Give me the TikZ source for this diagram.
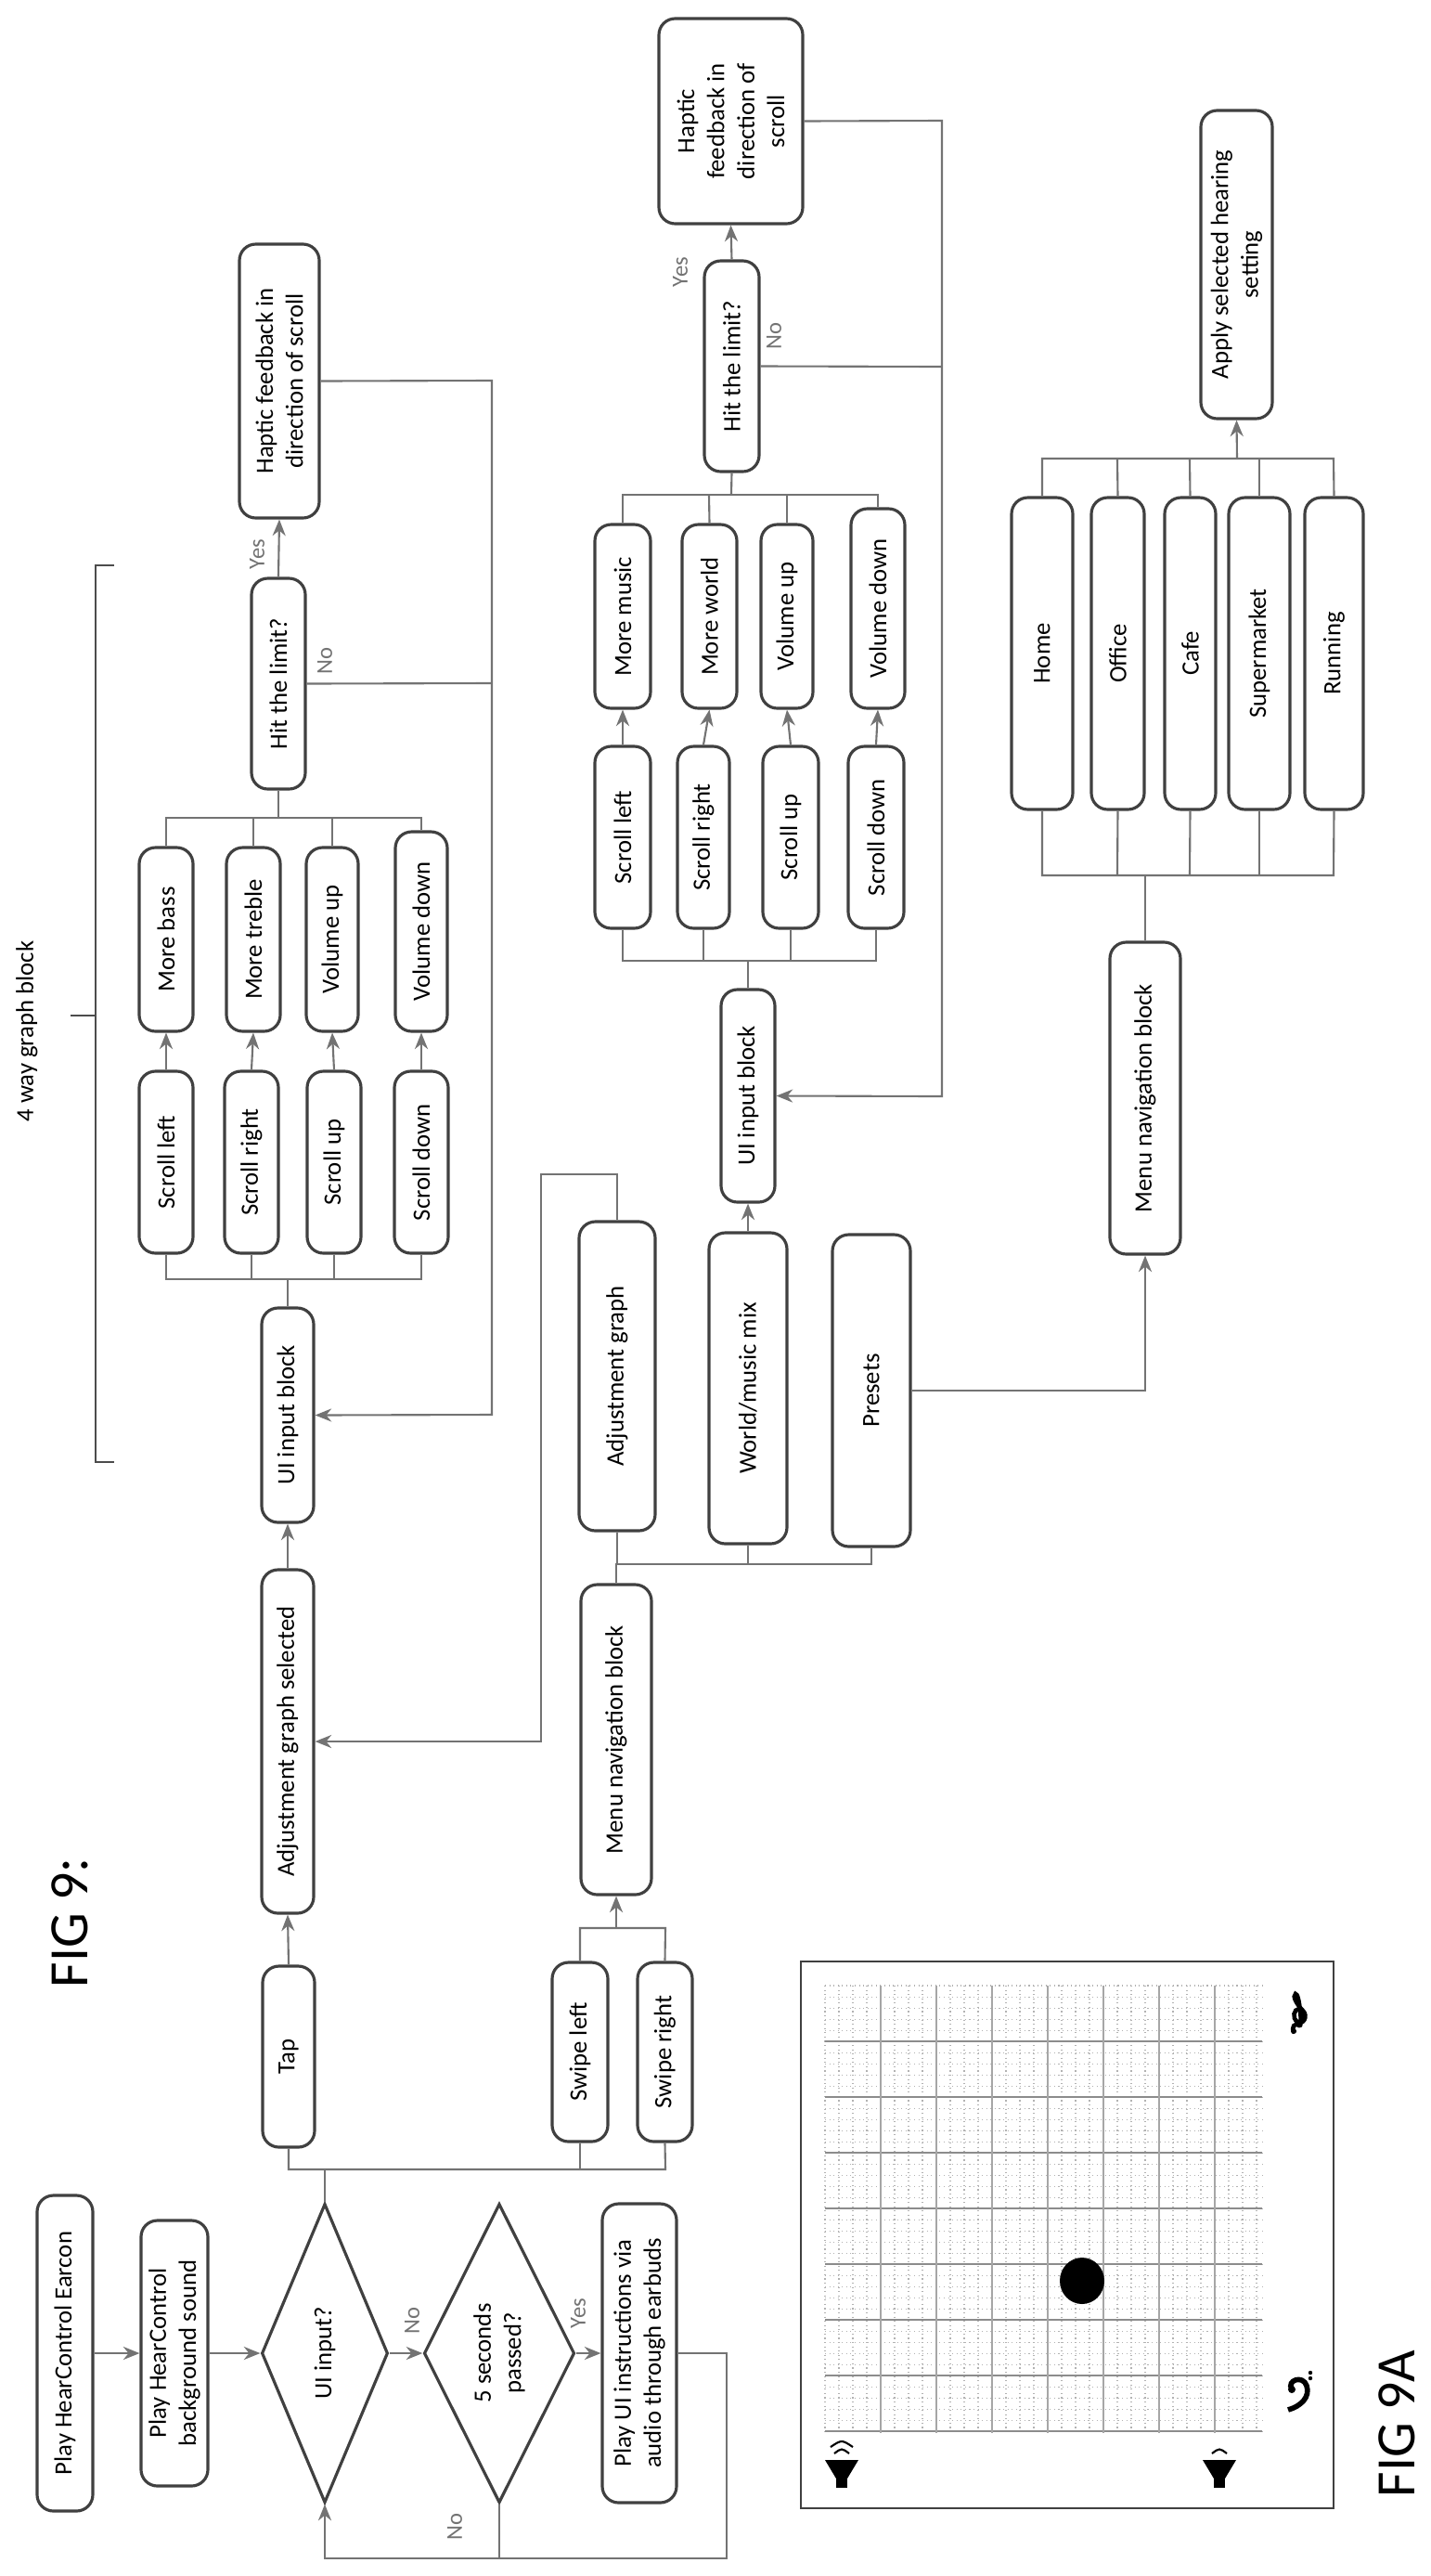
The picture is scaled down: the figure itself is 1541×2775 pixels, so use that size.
\documentclass[tikz,border=0pt]{standalone}
\usepackage{fontspec}
\setmainfont{Carlito}
\usetikzlibrary{shapes.geometric,arrows.meta}
\newcommand\fs{\fontsize{7.6}{9.2}\selectfont}
\newcommand\B[6]{\node[box, minimum width={(#5-#4)*0.01cm}, minimum height={(#3-#2)*0.01cm}] (#1) at ({(#2+#3)/2},{(#4+#5)/2}) {#6};}
\begin{document}
\begin{tikzpicture}[x=0.01cm,y=-0.01cm,
 box/.style={draw=black!75, line width=0.9pt, rounded corners=5pt, rotate=90, inner sep=1pt, align=center, font=\fs},
 dia/.style={draw=black!75, line width=0.9pt, diamond, rotate=90, inner sep=0pt, align=center, font=\fs},
 ln/.style={draw=black!55, line width=0.6pt},
 arr/.style={ln, -{Stealth[length=5pt,width=4pt]}},
 lab/.style={rotate=90, font=\fontsize{7}{8}\selectfont, text=black!55},
 big/.style={rotate=90, font=\fontsize{17}{19}\selectfont}]
\useasboundingbox (0,0) rectangle (1541,2775);
\fill[white] (0,0) rectangle (1541,2775);
% ---- titles
\node[big] (fig9) at (75,2071) {FIG 9:};
\node[big] (fig9a) at (1505,2611) {FIG 9A};
% ---- start chain
\B{earcon}{40}{100}{2365}{2705}{Play HearControl Earcon}
\B{bg}{152}{224}{2392}{2678}{Play HearControl\\background sound}
\node[dia, minimum width=3.22cm, minimum height=1.36cm] (d1) at (350,2535) {UI input?};
\node[dia, minimum width=3.22cm, minimum height=1.39cm] (d2) at (538,2535) {5 seconds\\passed?};
\B{playui}{649}{729}{2374}{2696}{Play UI instructions via\\audio through earbuds}
\draw[arr] (earcon.south) -- (bg.north);
\draw[arr] (bg.south) -- (d1.north);
\draw[arr] (d1.south) -- (d2.north);
\draw[arr] (d2.south) -- (playui.north);
\node[lab] (no1) at (444,2500) {No};
\node[lab] (yes1) at (623,2492) {Yes};
\node[lab] (no2) at (490,2722) {No};
\coordinate (lpA) at (783,2535);
\coordinate (lpB) at (783,2756);
\coordinate (lpC) at (350,2756);
\coordinate (lpD) at (538,2756);
\draw[arr] (playui.south) -- (lpA) -- (lpB) -- (lpC) -- (d1.west);
\draw[ln] (d2.west) -- (lpD);
% ---- tap / swipe
\B{tap}{283}{339}{2118}{2313}{Tap}
\B{swl}{595}{655}{2114}{2307}{Swipe left}
\B{swr}{687}{746}{2114}{2307}{Swipe right}
\coordinate (j0a) at (311,2337);
\coordinate (j0b) at (717,2337);
\draw[ln] (d1.east) -- (350,2337);
\draw[ln] (tap.west) -- (j0a) -- (j0b) -- (swr.west);
\draw[ln] (swl.west) -- (625,2337);
\B{ags}{282}{338}{1691}{2061}{Adjustment graph selected}
\B{ui1}{282}{338}{1409}{1640}{UI input block}
\draw[arr] (tap.east) -- (ags.west);
\draw[arr] (ags.east) -- (ui1.west);
\B{menu1}{626}{702}{1707}{2041}{Menu navigation block}
\coordinate (j1a) at (625,2077);
\coordinate (j1b) at (717,2077);
\draw[ln] (swl.east) -- (j1a) -- (j1b) -- (swr.east);
\draw[arr] (664,2077) -- (menu1.west);
% ---- second column
\B{adj}{624}{706}{1316}{1649}{Adjustment graph}
\B{world}{764}{848}{1328}{1663}{World/music mix}
\B{presets}{897}{981}{1330}{1666}{Presets}
\coordinate (j2a) at (664,1685);
\coordinate (j2b) at (939,1685);
\draw[ln] (menu1.east) -- (j2a) -- (j2b) -- (presets.west);
\draw[ln] (adj.west) -- (665,1685);
\draw[ln] (world.west) -- (806,1685);
\coordinate (fa1) at (665,1265);
\coordinate (fa2) at (583,1265);
\coordinate (fa3) at (583,1876);
\draw[arr] (adj.east) -- (fa1) -- (fa2) -- (fa3) -- (ags.south);
% ---- 4-way block 1
\foreach \n/\a/\b/\t in {sl1/150/208/Scroll left, sr1/242/300/Scroll right, su1/331/389/Scroll up, sd1/425/483/Scroll down}
  {\B{\n}{\a}{\b}{1154}{1350}{\t}}
\B{mb1}{150}{208}{913}{1111}{More bass}
\B{mt1}{244}{302}{913}{1111}{More treble}
\B{vu1}{330}{386}{913}{1111}{Volume up}
\B{vd1}{426}{482}{896}{1111}{Volume down}
\coordinate (j3a) at (179,1378);
\coordinate (j3b) at (454,1378);
\draw[ln] (sl1.west) -- (j3a) -- (j3b) -- (sd1.west);
\draw[ln] (sr1.west) -- (271,1378);
\draw[ln] (su1.west) -- (360,1378);
\draw[ln] (ui1.east) -- (310,1378);
\foreach \s/\m in {sl1/mb1, sr1/mt1, su1/vu1, sd1/vd1} {\draw[arr] (\s.east) -- (\m.west);}
\B{hit1}{271}{329}{623}{850}{Hit the limit?}
\B{hap1}{258}{344}{263}{558}{Haptic feedback in\\direction of scroll}
\coordinate (j4a) at (179,881);
\coordinate (j4b) at (454,881);
\draw[ln] (mb1.east) -- (j4a) -- (j4b) -- (vd1.east);
\draw[ln] (mt1.east) -- (273,881);
\draw[ln] (vu1.east) -- (358,881);
\draw[ln] (hit1.west) -- (300,881);
\draw[arr] (hit1.east) -- (hap1.west);
\node[lab] (yes2) at (277,597) {Yes};
\node[lab] (no3) at (350,712) {No};
\coordinate (fb1a) at (530,736);
\coordinate (fb1b) at (530,410);
\coordinate (fb1c) at (530,1524);
\draw[ln] (hit1.south) -- (fb1a);
\draw[arr] (hap1.south) -- (fb1b) -- (fb1c) -- (ui1.south);
% bracket
\coordinate (brA) at (123,609);
\coordinate (brB) at (103,609);
\coordinate (brC) at (103,1575);
\coordinate (brD) at (123,1575);
\coordinate (brT) at (76,1094);
\draw[black!70, line width=0.8pt] (brA) -- (brB) -- (brC) -- (brD);
\draw[black!70, line width=0.8pt] (brT) -- (103,1094);
\node[rotate=90, font=\fs] (wayl) at (29,1111) {4 way graph block};
% ---- 4-way block 2
\B{ui2}{777}{835}{1066}{1295}{UI input block}
\draw[arr] (world.east) -- (ui2.west);
\foreach \n/\a/\b/\t in {sl2/641/701/Scroll left, sr2/730/786/Scroll right, su2/822/882/Scroll up, sd2/914/974/Scroll down}
  {\B{\n}{\a}{\b}{804}{1000}{\t}}
\B{mm2}{641}{701}{565}{763}{More music}
\B{mw2}{735}{794}{565}{763}{More world}
\B{vu2}{820}{876}{565}{763}{Volume up}
\B{vd2}{917}{975}{548}{763}{Volume down}
\coordinate (j5a) at (671,1035);
\coordinate (j5b) at (944,1035);
\draw[ln] (sl2.west) -- (j5a) -- (j5b) -- (sd2.west);
\draw[ln] (sr2.west) -- (758,1035);
\draw[ln] (su2.west) -- (852,1035);
\draw[ln] (ui2.east) -- (806,1035);
\foreach \s/\m in {sl2/mm2, sr2/mw2, su2/vu2, sd2/vd2} {\draw[arr] (\s.east) -- (\m.west);}
\B{hit2}{759}{818}{281}{508}{Hit the limit?}
\B{hap2}{710}{865}{20}{241}{Haptic\\feedback in\\direction of\\scroll}
\coordinate (j6a) at (671,533);
\coordinate (j6b) at (946,533);
\draw[ln] (mm2.east) -- (j6a) -- (j6b) -- (vd2.east);
\draw[ln] (mw2.east) -- (764,533);
\draw[ln] (vu2.east) -- (848,533);
\draw[ln] (hit2.west) -- (788,533);
\draw[arr] (hit2.east) -- (hap2.west);
\node[lab] (yes3) at (733,293) {Yes};
\node[lab] (no4) at (834,362) {No};
\coordinate (fb2a) at (1015,395);
\coordinate (fb2b) at (1015,130);
\coordinate (fb2c) at (1015,1181);
\draw[ln] (hit2.south) -- (fb2a);
\draw[arr] (hap2.south) -- (fb2b) -- (fb2c) -- (ui2.south);
% ---- presets branch
\B{menu2}{1196}{1272}{1015}{1351}{Menu navigation block}
\coordinate (pr1) at (1234,1498);
\draw[arr] (presets.south) -- (pr1) -- (menu2.west);
\foreach \n/\a/\b/\t in {home/1090/1156/Home, office/1176/1233/Office, cafe/1255/1310/Cafe, superm/1324/1390/Supermarket, running/1406/1469/Running}
  {\B{\n}{\a}{\b}{536}{872}{\t}}
\coordinate (j7a) at (1123,943);
\coordinate (j7b) at (1437,943);
\draw[ln] (home.west) -- (j7a) -- (j7b) -- (running.west);
\draw[ln] (office.west) -- (1204,943);
\draw[ln] (cafe.west) -- (1282,943);
\draw[ln] (superm.west) -- (1357,943);
\draw[ln] (menu2.east) -- (1234,943);
\B{apply}{1294}{1371}{119}{451}{Apply selected hearing\\setting}
\coordinate (j8a) at (1123,494);
\coordinate (j8b) at (1437,494);
\draw[ln] (home.east) -- (j8a) -- (j8b) -- (running.east);
\draw[ln] (office.east) -- (1204,494);
\draw[ln] (cafe.east) -- (1282,494);
\draw[ln] (superm.east) -- (1357,494);
\draw[arr] (1333,494) -- (apply.west);
% ---- FIG 9A panel
\draw[black!75, line width=0.8pt] (863,2113) rectangle (1437,2702);
\foreach \xx in {889,904,...,1360} {\draw[black!30, line width=0.3pt, densely dotted] (\xx,2139) -- (\xx,2621);}
\foreach \yy in {2139,2151,...,2621} {\draw[black!30, line width=0.3pt, densely dotted] (889,\yy) -- (1360,\yy);}
\foreach \yy in {2199,2259,...,2621} {\draw[black!45, line width=0.5pt] (889,\yy) -- (1360,\yy);}
\foreach \xx in {949,1009,...,1360} {\draw[black!35, line width=0.4pt] (\xx,2139) -- (\xx,2621);}
\fill[black] (1166,2457) ellipse (24 and 25);
% treble clef (drawn)
\begin{scope}[shift={(1398,2168)}]
\draw[black, line width=1.3pt] (-3,22) .. controls (-8,16) and (-2,10) .. (2,14)
   .. controls (6,18) and (2,-22) .. (-2,-20) .. controls (-6,-18) and (0,-8) .. (6,-2)
   .. controls (12,4) and (6,14) .. (0,10) .. controls (-6,6) and (-4,-4) .. (2,-4);
\fill[black] (-4,20) circle (3);
\end{scope}
% bass clef (drawn)
\begin{scope}[shift={(1398,2578)}]
\draw[black, line width=1.6pt] (-6,-4) .. controls (-12,-14) and (6,-20) .. (10,-8)
   .. controls (14,4) and (4,14) .. (-10,18);
\fill[black] (-6,-4) circle (4);
\fill[black] (14,-16) circle (2.2);
\fill[black] (14,-22) circle (2.2);
\end{scope}
% speakers
\foreach \cx/\w in {907/2, 1314/1} {
  \fill[black] (\cx-18,2650) -- (\cx+18,2650) -- (\cx+6,2670) -- (\cx-6,2670) -- cycle;
  \fill[black] (\cx-6,2668) rectangle (\cx+6,2680);
  \draw[black, line width=0.6pt] (\cx-8,2643) .. controls (\cx,2637) .. (\cx+8,2643);
  \ifnum\w=2 \draw[black, line width=0.6pt] (\cx-12,2636) .. controls (\cx,2628) .. (\cx+12,2636); \fi
}
\end{tikzpicture}
\end{document}
